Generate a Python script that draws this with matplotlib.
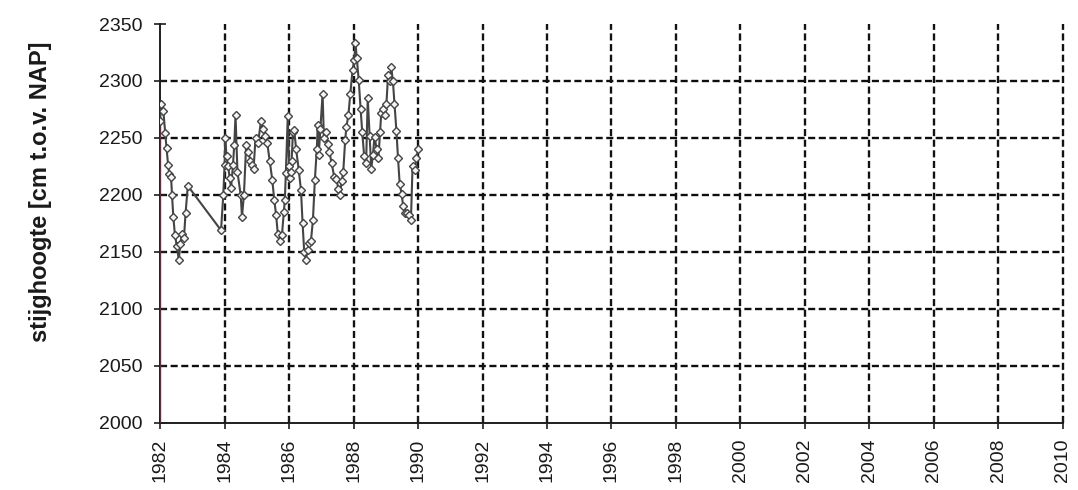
import matplotlib
matplotlib.use("Agg")
import matplotlib.pyplot as plt
import numpy as np

years = [
    1982.00, 1982.04, 1982.10, 1982.16, 1982.20, 1982.25, 1982.29, 1982.34,
    1982.37, 1982.41, 1982.46, 1982.52, 1982.58, 1982.63, 1982.68, 1982.74,
    1982.79, 1982.86, 1983.89, 1983.96, 1984.00, 1984.02, 1984.06, 1984.11,
    1984.16, 1984.20, 1984.26, 1984.30, 1984.34, 1984.40, 1984.50, 1984.54,
    1984.60, 1984.67, 1984.74, 1984.80, 1984.86, 1984.90, 1984.96, 1985.04,
    1985.13, 1985.18, 1985.25, 1985.32, 1985.40, 1985.48, 1985.54, 1985.60,
    1985.65, 1985.72, 1985.78, 1985.84, 1985.87, 1985.90, 1985.96, 1986.00,
    1986.02, 1986.05, 1986.08, 1986.12, 1986.16, 1986.22, 1986.30, 1986.37,
    1986.42, 1986.47, 1986.52, 1986.58, 1986.63, 1986.68, 1986.74, 1986.80,
    1986.86, 1986.89, 1986.92, 1986.97, 1987.04, 1987.08, 1987.15, 1987.20,
    1987.25, 1987.32, 1987.40, 1987.47, 1987.53, 1987.58, 1987.63, 1987.68,
    1987.74, 1987.78, 1987.84, 1987.90, 1987.97, 1988.02, 1988.06, 1988.10,
    1988.16, 1988.22, 1988.27, 1988.33, 1988.39, 1988.44, 1988.50, 1988.55,
    1988.60, 1988.65, 1988.72, 1988.77, 1988.82, 1988.86, 1988.92, 1988.98,
    1989.02, 1989.07, 1989.12, 1989.17, 1989.22, 1989.27, 1989.33, 1989.38,
    1989.43, 1989.49, 1989.54, 1989.59, 1989.65, 1989.72, 1989.78, 1989.83,
    1989.90, 1989.95, 1990.00,
]
heads = [
    2265, 2280, 2274, 2254, 2241, 2226, 2218, 2216,
    2200, 2181, 2165, 2155, 2143, 2157, 2166, 2162,
    2184, 2208, 2169, 2200, 2226, 2250, 2234, 2225,
    2215, 2206, 2226, 2244, 2270, 2220, 2200, 2181,
    2200, 2244, 2238, 2230, 2226, 2223, 2250, 2246,
    2265, 2258, 2252, 2246, 2230, 2213, 2196, 2182,
    2166, 2160, 2165, 2185, 2196, 2219, 2269, 2225,
    2215, 2220, 2230, 2255, 2257, 2240, 2222, 2204,
    2175, 2150, 2143, 2152, 2158, 2160, 2178, 2213,
    2240, 2261, 2235, 2258, 2289, 2250, 2255, 2245,
    2238, 2228, 2216, 2214, 2205, 2200, 2212, 2220,
    2248, 2260, 2270, 2289, 2310, 2318, 2333, 2320,
    2301, 2275, 2255, 2234, 2228, 2285, 2252, 2223,
    2235, 2251, 2240, 2232, 2255, 2272, 2275, 2270,
    2280, 2305, 2300, 2312, 2300, 2280, 2256, 2232,
    2210, 2201, 2190, 2184, 2184, 2182, 2178, 2225,
    2222, 2232, 2240,
]

x_ticks = list(range(1982, 2011, 2))
y_ticks = list(range(2000, 2351, 50))

plt.rcParams['font.family'] = ['Liberation Sans', 'DejaVu Sans']

fig = plt.figure(figsize=(10.78, 4.90), dpi=100)
ax = fig.add_axes([0.1485, 0.137, 0.8375, 0.814])

ax.set_xlim(1982, 2010)
ax.set_ylim(2000, 2350)

# dashed grid, no line at 2000 / 2350 or at 1982
for yv in y_ticks[1:-1]:
    ax.axhline(yv, color='#0e0e0e', lw=1.7, ls=(0, (3, 1.5)), zorder=1)
for xv in x_ticks[1:]:
    ax.axvline(xv, color='#121212', lw=1.7, ls=(0, (3, 1.5)), zorder=1,
               clip_on=False)

# scan shows the left axis tinted below the first reading
ax.vlines(years[0], 2000, heads[0], color='#6a2a3c', lw=1.7, zorder=3)

ax.plot(years, heads, color='#444444', lw=1.5, marker='D', markersize=3.8,
        markerfacecolor='#f4f4f4', markeredgecolor='#444444',
        markeredgewidth=1.0, zorder=4)

for side in ['top', 'right']:
    ax.spines[side].set_visible(False)
for side in ['left', 'bottom']:
    ax.spines[side].set_color('#1e1e1e')
    ax.spines[side].set_linewidth(1.4)

ax.set_xticks(x_ticks)
ax.set_xticklabels([str(t) for t in x_ticks], rotation=90)
ax.set_yticks(y_ticks)
ax.tick_params(axis='both', direction='inout', length=9, width=1.2,
               color='#1e1e1e', labelsize=14, labelcolor='#1a1a1a')
ax.tick_params(axis='y', pad=8)
ax.tick_params(axis='x', pad=7)

ax.set_ylabel('stijghoogte [cm t.o.v. NAP]', fontsize=17,
              fontweight='bold', color='#1a1a1a')
ax.yaxis.set_label_coords(-0.12, 0.58)

fig.savefig('out.png', dpi=100)
